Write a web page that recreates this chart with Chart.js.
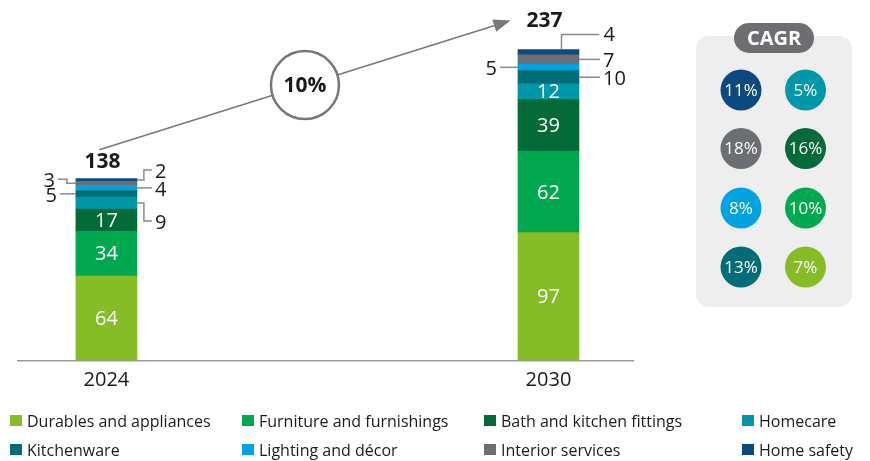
<!DOCTYPE html>
<html>
<head>
<meta charset="utf-8">
<title>Home market by segment</title>
<script src="https://cdn.jsdelivr.net/npm/chart.js@4.4.1/dist/chart.umd.min.js"></script>
<style>
    body {
        margin: 0;
        background: #fff;
        font-family: "Open Sans", sans-serif;
    }
    #wrap {
        position: relative;
        width: 870px;
        height: 461px;
    }
    #legend {
        position: absolute;
        left: 10px;
        top: 406px;
        display: grid;
        grid-template-columns: 232px 242px 258px 120px;
        grid-auto-rows: 29px;
        font-size: 16px;
        color: #1a1a1a;
    }
    .item {
        display: flex;
        align-items: center;
        white-space: nowrap;
    }
    .box {
        width: 12px;
        height: 11px;
        margin-right: 5px;
        flex: none;
    }
</style>
</head>
<body>
<div id="wrap">
    <canvas id="chart"></canvas>
    <div id="legend"></div>
</div>
<script>
const years = [2024, 2030];
const categories = ["Durables and appliances", "Furniture and furnishings", "Bath and kitchen fittings", "Homecare",
    "Kitchenware", "Lighting and décor", "Interior services", "Home safety"];
const colors = ["#86BC25", "#00A94F", "#046A38", "#0097A9", "#036D77", "#00A3E0", "#6B6E72", "#0C4A7E"];

const durables = [64, 97];
const furniture = [34, 62];
const bath = [17, 39];
const homecare = [9, 12];
const kitchenware = [5, 10];
const lighting = [4, 5];
const interior = [3, 7];
const homeSafety = [2, 4];
const totals = [138, 237];

// growth 2024-2030, same order as categories
const cagr = [7, 10, 16, 5, 13, 8, 18, 11];
const totalCagr = 10;

const series = [durables, furniture, bath, homecare, kitchenware, lighting, interior, homeSafety];

// where the small segments get their labels: [side, vertical nudge, leader length]
const outside = [
    {3: ["right", 18, 15], 4: ["left", 0, 16], 5: ["right", 0, 15], 6: ["left", -4, 18], 7: ["right", -10, 15]},
    {4: ["right", 0, 21], 5: ["left", 0, 18], 6: ["right", 0, 21], 7: ["top", -15, 38]}
];
const totalLift = [17, 29];

const FONT = "'Open Sans', sans-serif";
const INK = "#1a1a1a";
const GREY = "#75787B";

const annotate = {
    id: "annotate",
    afterDatasetsDraw(chart) {
        const ctx = chart.ctx;
        ctx.save();
        ctx.textBaseline = "middle";

        const tops = [];
        years.forEach((yr, i) => {
            let top = null;
            series.forEach((vals, d) => {
                const bar = chart.getDatasetMeta(d).data[i];
                const left = bar.x - bar.width / 2;
                const right = bar.x + bar.width / 2;
                const mid = (bar.y + bar.base) / 2;
                top = top === null ? bar.y : Math.min(top, bar.y);
                const spot = outside[i][d];

                if (!spot) {
                    ctx.fillStyle = "#fff";
                    ctx.font = "20px " + FONT;
                    ctx.textAlign = "center";
                    ctx.fillText(String(vals[i]), bar.x, mid + 1);
                    return;
                }

                const [side, dy, len] = spot;
                ctx.strokeStyle = "#8a8a8a";
                ctx.lineWidth = 1.5;
                ctx.fillStyle = INK;
                ctx.font = "20px " + FONT;
                ctx.beginPath();
                if (side === "right") {
                    const elbow = right + (dy ? 7 : len);
                    ctx.moveTo(right, mid);
                    ctx.lineTo(elbow, mid);
                    ctx.lineTo(elbow, mid + dy);
                    ctx.lineTo(right + len, mid + dy);
                    ctx.stroke();
                    ctx.textAlign = "left";
                    ctx.fillText(String(vals[i]), right + len + 3, mid + dy + 2);
                } else if (side === "left") {
                    const elbow = left - (dy ? 9 : len);
                    ctx.moveTo(left, mid);
                    ctx.lineTo(elbow, mid);
                    ctx.lineTo(elbow, mid + dy);
                    ctx.lineTo(left - len, mid + dy);
                    ctx.stroke();
                    ctx.textAlign = "right";
                    ctx.fillText(String(vals[i]), left - len - 3, mid + dy + 2);
                } else {
                    const x0 = bar.x + 13;
                    ctx.moveTo(x0, bar.y);
                    ctx.lineTo(x0, bar.y + dy);
                    ctx.lineTo(x0 + len, bar.y + dy);
                    ctx.stroke();
                    ctx.textAlign = "left";
                    ctx.fillText(String(vals[i]), x0 + len + 4, bar.y + dy + 1);
                }
            });
            tops.push({x: chart.getDatasetMeta(0).data[i].x, y: top});
        });

        // totals above the bars
        const totalPos = tops.map((t, i) => ({x: t.x - 4, y: t.y - totalLift[i]}));
        ctx.fillStyle = INK;
        ctx.font = "bold 21px " + FONT;
        ctx.textAlign = "center";
        totals.forEach((t, i) => ctx.fillText(String(t), totalPos[i].x, totalPos[i].y));

        // growth arrow between the two totals
        const sx = totalPos[0].x - 3, sy = totalPos[0].y - 12;
        const ex = totalPos[1].x - 34, ey = totalPos[1].y;
        const ang = Math.atan2(ey - sy, ex - sx);
        ctx.strokeStyle = GREY;
        ctx.fillStyle = GREY;
        ctx.lineWidth = 1.5;
        ctx.beginPath();
        ctx.moveTo(sx, sy);
        ctx.lineTo(ex - 14 * Math.cos(ang), ey - 14 * Math.sin(ang));
        ctx.stroke();
        ctx.beginPath();
        ctx.moveTo(ex, ey);
        ctx.lineTo(ex - 17 * Math.cos(ang) + 6.5 * Math.sin(ang), ey - 17 * Math.sin(ang) - 6.5 * Math.cos(ang));
        ctx.lineTo(ex - 17 * Math.cos(ang) - 6.5 * Math.sin(ang), ey - 17 * Math.sin(ang) + 6.5 * Math.cos(ang));
        ctx.closePath();
        ctx.fill();

        const cx = (sx + ex) / 2, cy = (sy + ey) / 2;
        ctx.beginPath();
        ctx.arc(cx, cy, 34, 0, Math.PI * 2);
        ctx.fillStyle = "#fff";
        ctx.fill();
        ctx.lineWidth = 2.5;
        ctx.stroke();
        ctx.fillStyle = INK;
        ctx.font = "bold 21px " + FONT;
        ctx.fillText(totalCagr + "%", cx, cy + 1);

        // CAGR panel
        ctx.fillStyle = "#EEEEEE";
        ctx.beginPath();
        ctx.roundRect(696, 36, 156, 271, 13);
        ctx.fill();
        ctx.fillStyle = "#6D6E71";
        ctx.beginPath();
        ctx.roundRect(734, 23, 80, 30, 15);
        ctx.fill();
        ctx.fillStyle = "#fff";
        ctx.font = "bold 20px " + FONT;
        ctx.fillText("CAGR", 774, 39);

        const colX = [741, 805.5];
        const rowY = [90, 148.5, 208, 267];
        ctx.font = "17px " + FONT;
        for (let k = 0; k < 8; k++) {
            const d = 7 - k;
            const x = colX[k < 4 ? 0 : 1];
            const y = rowY[k % 4];
            ctx.beginPath();
            ctx.arc(x, y, 20.5, 0, Math.PI * 2);
            ctx.fillStyle = colors[d];
            ctx.fill();
            ctx.fillStyle = "#fff";
            ctx.fillText(cagr[d] + "%", x, y + 1);
        }

        ctx.restore();
    }
};

function loadChart() {
    const datasets = series.map((vals, d) => ({
            label: categories[d],
            data: years.map((yr, i) => ({x: yr, y: vals[i]})),
            backgroundColor: colors[d],
            barThickness: 61,
            borderWidth: 0
        }));

    new Chart(document.getElementById("chart"), {
        type: "bar",
        data: {datasets: datasets},
        options: {
            responsive: true,
            maintainAspectRatio: false,
            animation: false,
            layout: {padding: {left: 18, right: 237, top: 10, bottom: 60.5}},
            plugins: {
                legend: {display: false},
                tooltip: {enabled: false}
            },
            scales: {
                x: {
                    type: "linear",
                    stacked: true,
                    offset: false,
                    min: 2022.8,
                    max: 2031.147,
                    grid: {display: false, drawTicks: false},
                    border: {color: "#9a9a9a", width: 1.5},
                    afterBuildTicks: scale => {
                        scale.ticks = years.map(v => ({value: v}));
                    },
                    afterFit: scale => {
                        scale.height = 40;
                    },
                    ticks: {
                        padding: 8,
                        color: INK,
                        font: {family: FONT, size: 20},
                        callback: v => String(v)
                    }
                },
                y: {
                    display: false,
                    stacked: true,
                    min: 0,
                    max: 266
                }
            }
        },
        plugins: [annotate]
    });

    // legend in four columns under the chart
    let legend = document.getElementById("legend");
    legend.innerHTML = "";
    categories.forEach((name, d) => {
        legend.innerHTML += `<div class="item"><span class="box" style="background:${colors[d]}"></span>${name}</div>`;
    });
}

loadChart();
</script>
</body>
</html>
